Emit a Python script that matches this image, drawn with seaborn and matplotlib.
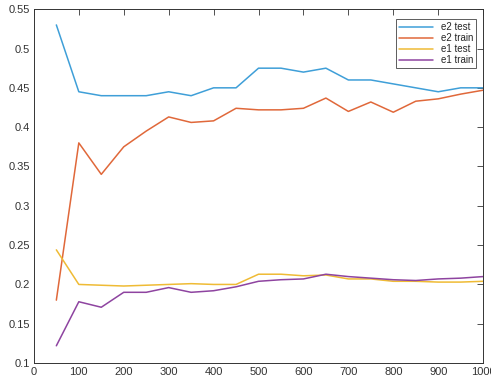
import numpy as np
import pandas as pd
import seaborn as sns
import matplotlib.pyplot as plt

# training set sizes
sizes = [50, 100, 150, 200, 250, 300, 350, 400, 450, 500,
         550, 600, 650, 700, 750, 800, 850, 900, 950, 1000]

e2_test = [0.530, 0.445, 0.440, 0.440, 0.440, 0.445, 0.440, 0.450, 0.450, 0.475,
           0.475, 0.470, 0.475, 0.460, 0.460, 0.455, 0.450, 0.445, 0.450, 0.450]
e2_train = [0.180, 0.380, 0.340, 0.375, 0.395, 0.413, 0.406, 0.408, 0.424, 0.422,
            0.422, 0.424, 0.437, 0.420, 0.432, 0.419, 0.433, 0.436, 0.442, 0.447]
e1_test = [0.244, 0.200, 0.199, 0.198, 0.199, 0.200, 0.201, 0.200, 0.200, 0.213,
           0.213, 0.211, 0.212, 0.207, 0.207, 0.204, 0.204, 0.203, 0.203, 0.204]
e1_train = [0.122, 0.178, 0.171, 0.190, 0.190, 0.196, 0.190, 0.192, 0.197, 0.204,
            0.206, 0.207, 0.213, 0.210, 0.208, 0.206, 0.205, 0.207, 0.208, 0.210]

series = {'e2 test': e2_test, 'e2 train': e2_train,
          'e1 test': e1_test, 'e1 train': e1_train}
df = pd.concat([pd.DataFrame({'n': sizes, 'err': v, 'curve': k})
                for k, v in series.items()], ignore_index=True)

# matlab-ish default colours, a bit washed out like the screenshot
palette = ['#3f9fd8', '#e0683a', '#efbb35', '#8e44a0']

sns.set_style('white')
plt.rcParams['font.family'] = ['Liberation Sans', 'DejaVu Sans']

fig = plt.figure(figsize=(4.91, 3.83), dpi=100)
ax = fig.add_axes([0.069, 0.052, 0.915, 0.924])
sns.lineplot(data=df, x='n', y='err', hue='curve', palette=palette,
             linewidth=1.1, ax=ax)

ax.set_xlim(0, 1000)
ax.set_ylim(0.1, 0.55)
ax.set_xticks(np.arange(0, 1001, 100))
ax.set_yticks(np.arange(0.1, 0.551, 0.05))
ax.set_yticklabels(['0.1', '0.15', '0.2', '0.25', '0.3', '0.35', '0.4',
                    '0.45', '0.5', '0.55'])
ax.set_xlabel('')
ax.set_ylabel('')
ax.tick_params(direction='in', length=4, width=0.6, labelsize=8,
               colors='#333333', top=True, right=True, pad=3)
for s in ax.spines.values():
    s.set_color('#333333')
    s.set_linewidth(0.7)

leg = ax.legend(loc='upper right', fontsize=7, frameon=True, fancybox=False,
                edgecolor='#333333', handlelength=3.5, borderpad=0.3,
                labelspacing=0.1, bbox_to_anchor=(0.995, 0.985))
leg.get_frame().set_linewidth(0.7)
for t in leg.get_texts():
    t.set_ha('right')

fig.savefig('out.png', dpi=100)
